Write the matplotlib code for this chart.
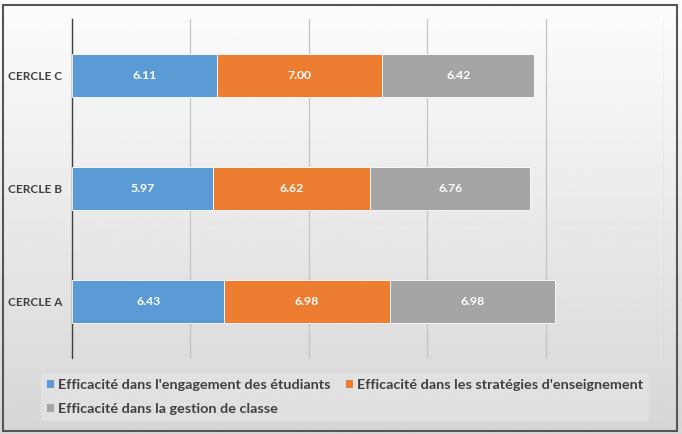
import numpy as np
import matplotlib.pyplot as plt
from matplotlib.patches import Rectangle, Patch

categories = ['CERCLE A', 'CERCLE B', 'CERCLE C']
engagement = [6.43, 5.97, 6.11]
strategies = [6.98, 6.62, 7.00]
gestion = [6.98, 6.76, 6.42]
series_names = ["Efficacité dans l'engagement des étudiants",
                "Efficacité dans les stratégies d'enseignement",
                "Efficacité dans la gestion de classe"]
colors = ['#5B9BD5', '#ED7D31', '#A5A5A5']

FONT = ['Lato', 'DejaVu Sans']
plt.rcParams['font.family'] = FONT

fig = plt.figure(figsize=(6.82, 4.34), dpi=100)

# background gradient
bg = fig.add_axes([0, 0, 1, 1], zorder=-10)
grad = np.linspace(0.99, 0.84, 256).reshape(-1, 1)
bg.imshow(grad, aspect='auto', cmap='gray', vmin=0, vmax=1, extent=[0, 1, 0, 1])
bg.add_patch(Rectangle((0.004, 0.008), 0.988, 0.981, fill=False,
                       edgecolor='#555555', linewidth=1.5, transform=bg.transAxes))
bg.set_xlim(0, 1)
bg.set_ylim(0, 1)
bg.axis('off')

ax = fig.add_axes([72 / 682, 1 - 358 / 434, (664 - 72) / 682, (358 - 19) / 434])
ax.patch.set_alpha(0)

y = np.arange(len(categories))
left = np.zeros(len(categories))
handles = []
for vals, col, name in zip([engagement, strategies, gestion], colors, series_names):
    bars = ax.barh(y, vals, left=left, height=0.385, color=col,
                   edgecolor='white', linewidth=0.6, zorder=3)
    for b, v in zip(bars, vals):
        ax.text(b.get_x() + b.get_width() / 2, b.get_y() + b.get_height() / 2,
                f'{v:.2f}', ha='center', va='center', color='white',
                fontsize=8.8, fontweight='bold', zorder=4)
    left += np.array(vals)
    handles.append(Patch(facecolor=col, label=name))

ax.set_xlim(0, 25)
ax.set_ylim(-0.5, 2.5)
ax.set_xticks(range(0, 26, 5))
ax.set_xticklabels([])
ax.set_yticks(y)
ax.set_yticklabels(categories, fontsize=8.5, fontweight='bold', color='#404040')
ax.tick_params(length=0, pad=7)
ax.grid(axis='x', color='#c4c4c4', linewidth=0.9, zorder=0)
for s in ['top', 'right', 'bottom']:
    ax.spines[s].set_visible(False)
ax.spines['left'].set_color('#404040')
ax.spines['left'].set_linewidth(1.0)

# order so that 2 columns read row-wise
leg = fig.legend([handles[0], handles[2], handles[1]],
                 [series_names[0], series_names[2], series_names[1]],
                 ncol=2, loc='upper left', bbox_to_anchor=(34 / 682, 1 - 366 / 434),
                 frameon=True, handlelength=0.45, handleheight=0.45,
                 handletextpad=0.3, columnspacing=1.1, labelspacing=0.85,
                 borderpad=0.4, prop={'family': FONT, 'weight': 'bold', 'size': 10.4})
leg.get_frame().set_facecolor('#e4e4e4')
leg.get_frame().set_edgecolor('none')
leg.get_frame().set_alpha(0.7)
for t in leg.get_texts():
    t.set_color('#404040')

fig.savefig('out.png', dpi=100)
